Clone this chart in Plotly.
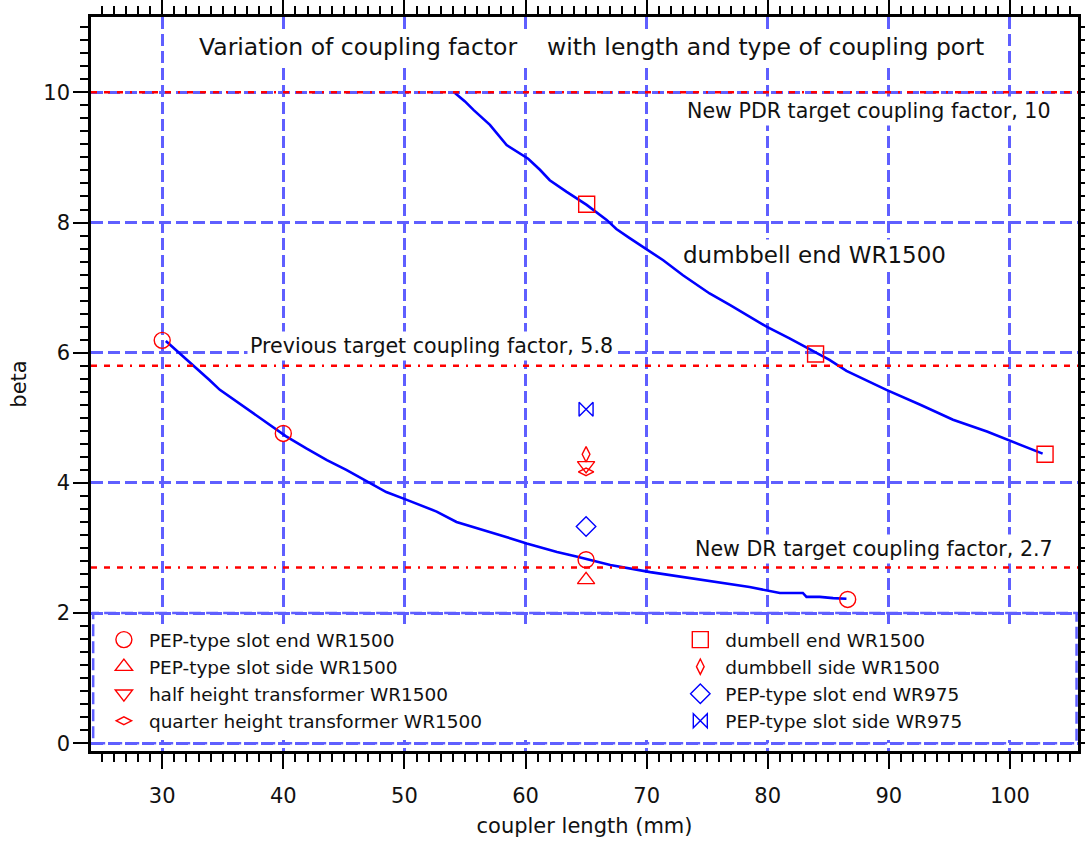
import plotly.graph_objects as go

# Coupling factor (beta) versus coupler length, two simulated sweeps
slot_end_len = [30.3, 31.46, 32.3, 33.9, 34.76, 36.4, 37.8, 39.2, 40.2, 41.9, 43.6, 45.2,
                46.9, 48.5, 50.2, 52.66, 54.3, 56.5, 58.4, 60.1, 62.6, 64.2, 65.9, 67.0,
                70.3, 74.4, 78.5, 81.0, 82.9, 83.2, 84.3, 85.4, 86.5]
slot_end_beta = [6.18, 5.99, 5.84, 5.58, 5.43, 5.22, 5.04, 4.86, 4.72, 4.53, 4.35, 4.20,
                 4.02, 3.86, 3.74, 3.56, 3.40, 3.28, 3.17, 3.07, 2.94, 2.87, 2.79, 2.74,
                 2.63, 2.51, 2.40, 2.31, 2.31, 2.25, 2.25, 2.23, 2.22]

dumbbell_len = [54.17, 55.0, 55.7, 57.06, 58.44, 60.22, 61.19, 62.0, 63.4, 65.05, 66.7,
                67.5, 68.6, 69.86, 71.37, 73.0, 75.2, 76.9, 78.3, 79.9, 81.8, 83.76,
                85.1, 86.5, 89.8, 92.6, 95.3, 98.1, 100.3, 102.7]
dumbbell_beta = [9.99, 9.86, 9.73, 9.50, 9.19, 8.98, 8.81, 8.65, 8.47, 8.27, 8.04,
                 7.90, 7.76, 7.60, 7.42, 7.19, 6.91, 6.73, 6.58, 6.40, 6.22, 6.02,
                 5.89, 5.72, 5.43, 5.20, 4.97, 4.79, 4.63, 4.45]

# Measured / computed points per coupler type
pep_end_1500_x = [30.0, 40.0, 65.0, 86.6]
pep_end_1500_y = [6.19, 4.76, 2.82, 2.21]
pep_side_1500_x = [65.0]
pep_side_1500_y = [2.51]
half_tr_x = [65.0]
half_tr_y = [4.27]
quarter_tr_x = [65.0]
quarter_tr_y = [4.17]
db_end_x = [65.05, 83.95, 102.9]
db_end_y = [8.28, 5.98, 4.44]
db_side_x = [65.0]
db_side_y = [4.44]
pep_end_975_x = [65.0]
pep_end_975_y = [3.33]
pep_side_975_x = [65.0]
pep_side_975_y = [5.13]

# Target coupling factors
targets = [10.0, 5.8, 2.7]

x_ticks = [30, 40, 50, 60, 70, 80, 90, 100]
y_ticks = [0, 2, 4, 6, 8, 10]

X_RANGE = [24.12, 105.62]
Y_RANGE = [-0.118, 11.157]

FONT = "DejaVu Sans"
INK = "#111111"
RED = "#FF0000"
BLUE = "#0000FF"
GRID = "#5F5FFF"

fig = go.Figure()

for xs, ys in [(slot_end_len, slot_end_beta), (dumbbell_len, dumbbell_beta)]:
    fig.add_trace(go.Scatter(x=xs, y=ys, mode="lines", showlegend=False,
                             line=dict(color=BLUE, width=2.6), hoverinfo="skip"))

markers_left = [
    ("PEP-type slot end WR1500", pep_end_1500_x, pep_end_1500_y, "circle-open", RED, 16),
    ("PEP-type slot side WR1500", pep_side_1500_x, pep_side_1500_y, "triangle-up-open", RED, 15),
    ("half height transformer WR1500", half_tr_x, half_tr_y, "triangle-down-open", RED, 15),
    ("quarter height transformer WR1500", quarter_tr_x, quarter_tr_y, "diamond-wide-open", RED, 11),
]
markers_right = [
    ("dumbell end WR1500", db_end_x, db_end_y, "square-open", RED, 16),
    ("dumbbell side WR1500", db_side_x, db_side_y, "diamond-tall-open", RED, 11),
    ("PEP-type slot end WR975", pep_end_975_x, pep_end_975_y, "diamond-open", BLUE, 15),
    ("PEP-type slot side WR975", pep_side_975_x, pep_side_975_y, "bowtie-open", BLUE, 14),
]

for legend_id, group in [("legend", markers_left), ("legend2", markers_right)]:
    for name, xs, ys, sym, col, size in group:
        fig.add_trace(go.Scatter(
            x=xs, y=ys, mode="markers", name=name, legend=legend_id,
            marker=dict(symbol=sym, size=size, color=col, line=dict(color=col, width=1.4)),
        ))

# White panel behind the legends, framed by dashed edges
fig.add_shape(type="rect", xref="x", yref="y", x0=X_RANGE[0], x1=X_RANGE[1], y0=0.05, y1=1.78,
              fillcolor="white", line=dict(width=0), layer="between")
fig.add_shape(type="rect", xref="x", yref="y", x0=24.3, x1=105.5, y0=0, y1=2,
              fillcolor="rgba(0,0,0,0)", line=dict(color=GRID, width=2.5, dash="12px,5px"),
              layer="between")

# Target coupling factor lines
for t in targets:
    fig.add_shape(type="line", xref="paper", yref="y", x0=0, x1=1, y0=t, y1=t,
                  line=dict(color=RED, width=2.6, dash="6px,7px,6px,7px,6px,7px,2px,7px"),
                  layer="above")

labels = [
    ("Variation of coupling factor\u00a0\u00a0\u00a0\u00a0with length and type of coupling port",
     65.44, 10.70, "center", 23.5),
    ("New PDR target coupling factor, 10", 103.63, 9.71, "right", 20.6),
    ("Previous target coupling factor, 5.8", 37.0, 6.10, "left", 20.6),
    ("New DR target coupling factor, 2.7", 103.8, 2.99, "right", 20.6),
    ("dumbbell end WR1500", 83.9, 7.50, "center", 23),
]
for text, x, y, anchor, size in labels:
    fig.add_annotation(x=x, y=y, xref="x", yref="y", text=text, showarrow=False,
                       xanchor=anchor, yanchor="middle", bgcolor="white", borderpad=2,
                       font=dict(family=FONT, size=size, color=INK))

axis_common = dict(
    showline=True, linecolor="black", linewidth=2.5, mirror="ticks",
    ticks="outside", ticklen=15, tickwidth=2, tickcolor="black",
    showgrid=True, gridcolor=GRID, gridwidth=2.5, griddash="12px,5px",
    zeroline=False, automargin=False,
    tickfont=dict(family=FONT, size=21, color=INK),
)

fig.update_xaxes(
    range=X_RANGE, tickvals=x_ticks, ticktext=[str(v) for v in x_ticks],
    minor=dict(ticks="outside", dtick=1, tick0=0, ticklen=8, tickwidth=2,
               tickcolor="black", showgrid=False),
    title=dict(text="coupler length (mm)", font=dict(family=FONT, size=21, color=INK),
               standoff=12),
    ticklabelstandoff=9,
    **axis_common,
)
fig.update_yaxes(
    range=Y_RANGE, tickvals=y_ticks, ticktext=[str(v) for v in y_ticks],
    minor=dict(ticks="outside", dtick=0.2, tick0=0, ticklen=8, tickwidth=2,
               tickcolor="black", showgrid=False),
    title=dict(text="beta", font=dict(family=FONT, size=21, color=INK), standoff=11),
    ticklabelstandoff=-1,
    **axis_common,
)

legend_common = dict(
    bgcolor="rgba(0,0,0,0)", borderwidth=0, yanchor="top", xanchor="left",
    font=dict(family=FONT, size=18.5, color=INK), itemsizing="trace",
    tracegroupgap=0, itemwidth=40,
)
fig.update_layout(
    width=1085, height=841,
    margin=dict(l=91, r=7, t=17, b=90),
    paper_bgcolor="white", plot_bgcolor="white",
    showlegend=True,
    legend=dict(x=0.008, y=0.177, **legend_common),
    legend2=dict(x=0.592, y=0.177, **legend_common),
)

fig.write_html("out.html")
